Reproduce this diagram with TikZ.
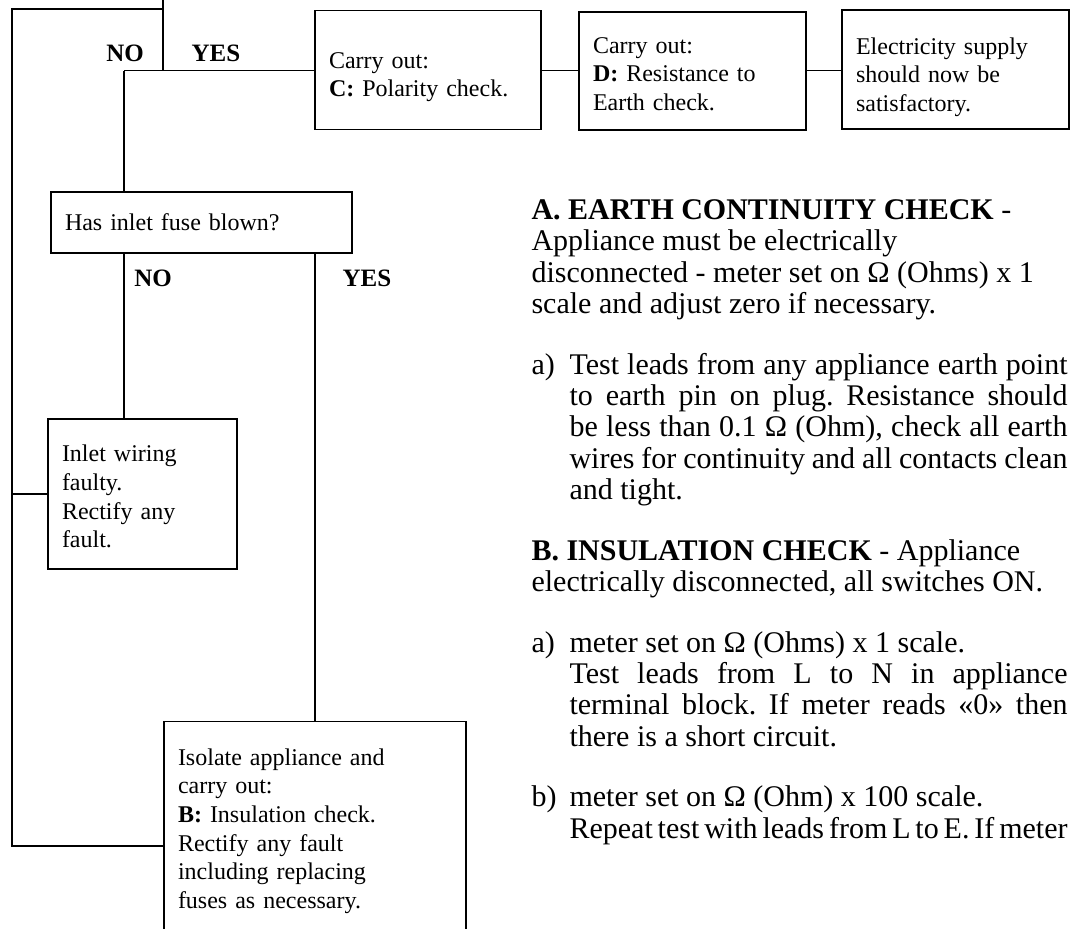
\documentclass[tikz,border=0pt]{standalone}
\usepackage{fontspec}
\setmainfont{Liberation Serif}

\begin{document}
\begin{tikzpicture}[x=1pt,y=-1pt,line width=1.1pt,
  box/.style={draw,align=left,inner xsep=14pt,inner ysep=0pt,font=\fontsize{24}{28.6}\selectfont},
  lower/.style={execute at begin node={\rule{0pt}{#1}}},
  lbl/.style={font=\fontsize{25}{30}\selectfont\bfseries}]
\useasboundingbox (0,0) rectangle (1074,929);
\clip (0,0) rectangle (1074,929);

\node[box,lower=30pt,text width=198pt,minimum height=119pt] (polar) at (428,70) {Carry out:\\\textbf{C:} Polarity check.};
\node[box,lower=22pt,text width=199pt,minimum height=118pt] (resist) at (692.5,71) {Carry out:\\\textbf{D:} Resistance to\\Earth check.};
\node[box,lower=32pt,text width=199pt,minimum height=119pt] (supply) at (955.5,69.5) {Electricity supply\\should now be\\satisfactory.};
\node[box,text width=273pt,minimum height=61pt] (fuse) at (201.5,222.5) {Has inlet fuse blown?};
\node[box,lower=22pt,text width=161pt,minimum height=150pt] (inlet) at (142.5,494) {Inlet wiring\\faulty.\\Rectify any\\fault.};
\node[box,text width=274pt,inner ysep=27pt,anchor=north] (isol) at (315,721) {Isolate appliance and\\carry out:\\\textbf{B:} Insulation check.\\Rectify any fault\\including replacing\\fuses as necessary.};

\node[lbl] (noa) at (125,53) {NO};
\node[lbl] (yesa) at (216,53) {YES};
\node[lbl] (nob) at (153,278) {NO};
\node[lbl] (yesb) at (367,278) {YES};

\coordinate (feed) at (163,-5);
\coordinate (fork) at (163,70.5);
\coordinate (nofork) at (163,9);
\coordinate (noturn) at (12,9);
\coordinate (nobot) at (12,846);
\coordinate (yesturn) at (124,70.5);

\draw (feed) -- (fork);
\draw (nofork) -- (noturn) -- (nobot) -- (nobot -| isol.west);
\draw (inlet.west) -- (inlet.west -| noturn);
\draw (yesturn) -- (yesturn -| polar.west);
\draw (yesturn) -- (yesturn |- fuse.north);
\draw (polar.east |- fork) -- (resist.west |- fork);
\draw (resist.east |- fork) -- (supply.west |- fork);
\draw (yesturn |- fuse.south) -- (yesturn |- inlet.north);
\draw (isol.north |- fuse.south) -- (isol.north);

\node[anchor=north west,inner sep=0pt,text width=536pt,align=justify,font=\fontsize{30}{31.3}\selectfont] (notes) at (531,199) {%
\setlength{\parskip}{29.5pt}\setlength{\parindent}{0pt}%
\frenchspacing\hyphenpenalty=10000\exhyphenpenalty=10000
\textbf{A. EARTH CONTINUITY CHECK} -\\
Appliance must be electrically\\
disconnected - meter set on Ω (Ohms) x 1\\
scale and adjust zero if necessary.\par
\hangindent=38pt\hangafter=1\noindent\makebox[38pt][l]{a)}Test leads from any appliance earth point\linebreak
to earth pin on plug. Resistance should\linebreak
be less than 0.1 Ω (Ohm), check all earth\linebreak
wires for continuity and all contacts clean\linebreak
and tight.\par
\textbf{B. INSULATION CHECK} - Appliance\\
electrically disconnected, all switches ON.\par
\hangindent=38pt\hangafter=1\noindent\makebox[38pt][l]{a)}meter set on Ω (Ohms) x 1 scale.\\
Test leads from L to N in appliance\linebreak
terminal block. If meter reads «0» then\linebreak
there is a short circuit.\par
\parfillskip=0pt\hangindent=38pt\hangafter=1\noindent\makebox[38pt][l]{b)}meter set on Ω (Ohm) x 100 scale.\\
{\spaceskip=0.15em plus 0.1em minus 0.03em Repeat test with leads from L to E. If meter}\par};
\end{tikzpicture}
\end{document}
